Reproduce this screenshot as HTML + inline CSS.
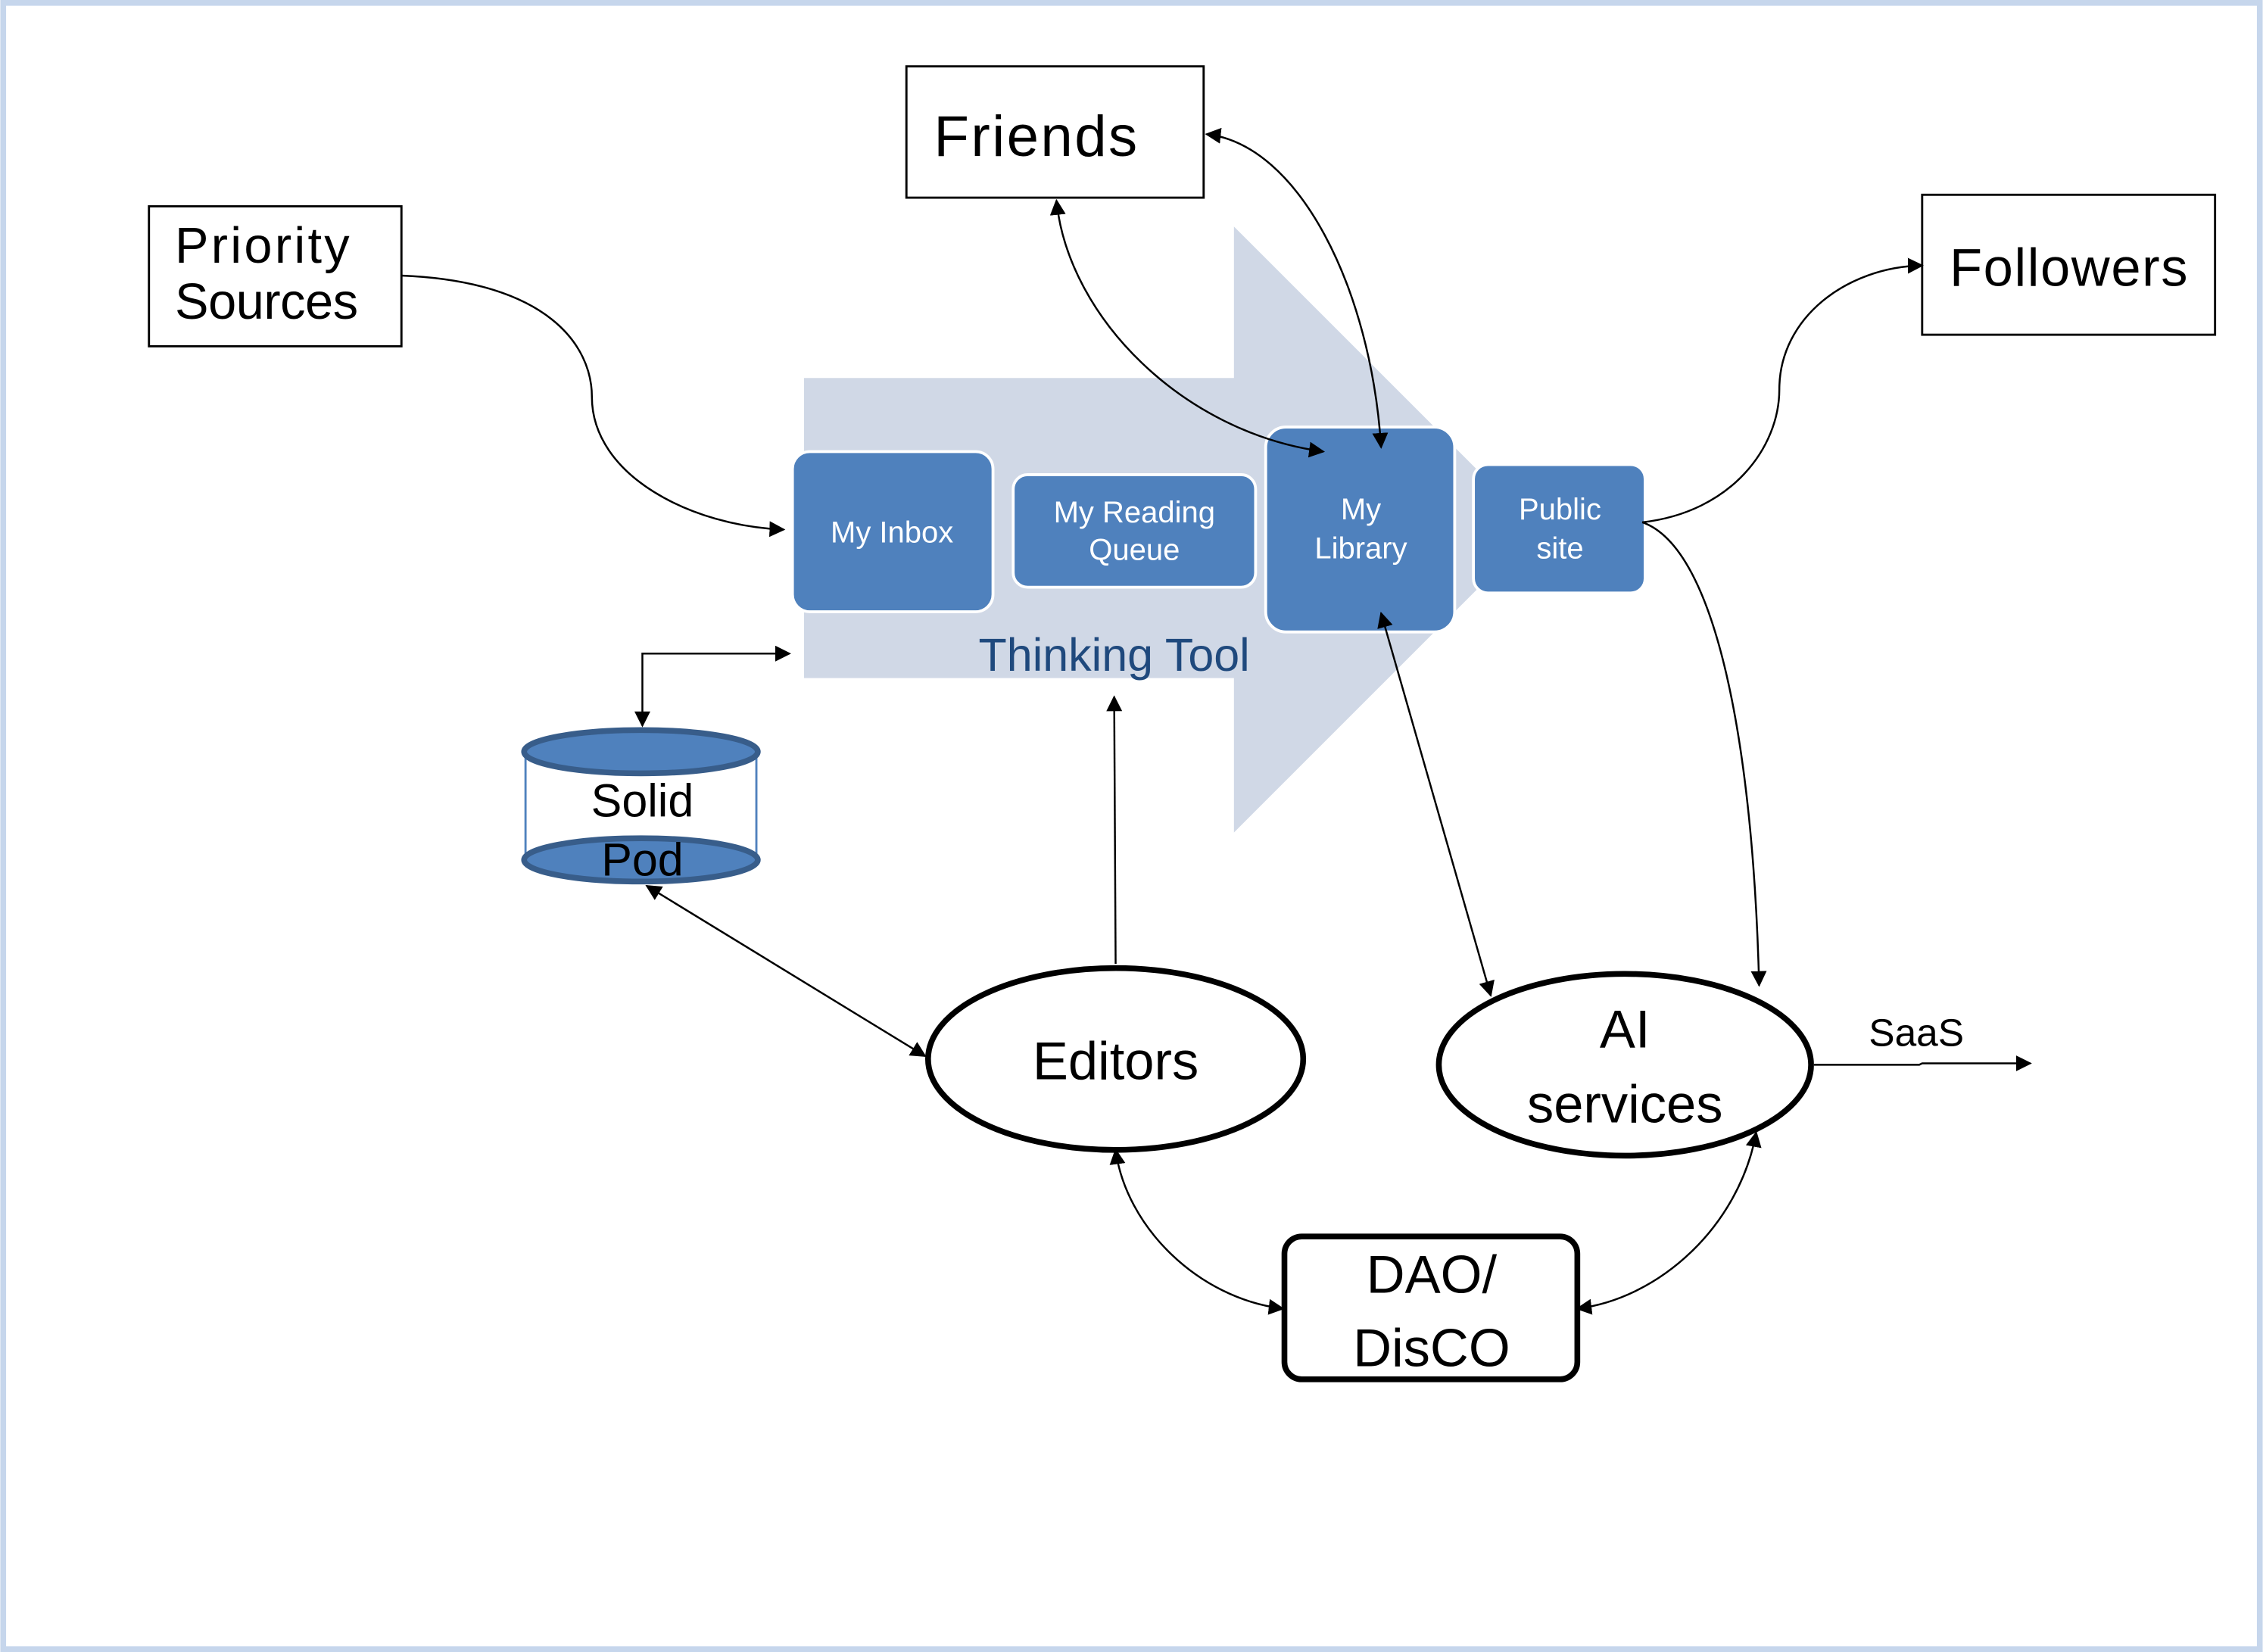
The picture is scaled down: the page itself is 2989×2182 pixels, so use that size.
<!DOCTYPE html>
<html><head><meta charset="utf-8"><style>
html,body{margin:0;padding:0;background:#fff;}
svg{display:block;}
text{font-family:"Liberation Sans",sans-serif;}
</style></head><body>
<svg width="2989" height="2182" viewBox="0 0 1568 1145" xmlns="http://www.w3.org/2000/svg">
<defs>
<marker id="a" viewBox="0 0 10 10" refX="9" refY="5" markerWidth="11" markerHeight="11" markerUnits="userSpaceOnUse" orient="auto-start-reverse">
<path d="M0,0 L10,5 L0,10 z" fill="#000"/></marker>
</defs>
<rect x="0" y="0" width="1568" height="1145" fill="#fff"/>
<rect x="2" y="2" width="1564" height="1141" fill="none" stroke="#c6d6ec" stroke-width="4"/>
<polygon points="557,262 855,262 855,157 1065,367 855,577 855,470 557,470" fill="#d0d8e6"/>
<g stroke="#fff" stroke-width="2" fill="#4f81bd">
<rect x="549" y="313" width="139" height="111" rx="12"/>
<rect x="702" y="329" width="168" height="78" rx="10"/>
<rect x="877" y="296" width="131" height="142" rx="14"/>
<rect x="1021" y="322" width="119" height="89" rx="10"/>
</g>
<g fill="#fff" font-size="21" text-anchor="middle">
<text x="618" y="376">My Inbox</text>
<text x="786" y="362">My Reading</text><text x="786" y="388">Queue</text>
<text x="943" y="360">My</text><text x="943" y="387">Library</text>
<text x="1081" y="360">Public</text><text x="1081" y="387">site</text>
</g>
<text x="772" y="465" font-size="32" fill="#1f497d" text-anchor="middle">Thinking Tool</text>
<g fill="#fff" stroke="#000" stroke-width="1.5">
<rect x="628" y="46" width="206" height="91"/>
<rect x="103" y="143" width="175" height="97"/>
<rect x="1332" y="135" width="203" height="97"/>
</g>
<text x="647" y="108" font-size="40" textLength="141">Friends</text>
<text x="121" y="182" font-size="35" textLength="121">Priority</text>
<text x="121" y="221" font-size="35" textLength="127">Sources</text>
<text x="1351" y="198" font-size="37" textLength="165">Followers</text>
<line x1="364" y1="521" x2="364" y2="596" stroke="#4f81bd" stroke-width="1.5"/>
<line x1="524" y1="521" x2="524" y2="596" stroke="#4f81bd" stroke-width="1.5"/>
<ellipse cx="444" cy="596" rx="81" ry="15" fill="#4f81bd" stroke="#385d8a" stroke-width="4"/>
<ellipse cx="444" cy="521" rx="81" ry="15" fill="#4f81bd" stroke="#385d8a" stroke-width="4"/>
<text x="445" y="566" font-size="32" text-anchor="middle">Solid</text>
<text x="445" y="607" font-size="32" text-anchor="middle">Pod</text>
<ellipse cx="773" cy="734" rx="130" ry="63" fill="#fff" stroke="#000" stroke-width="4"/>
<text x="773" y="748" font-size="37" text-anchor="middle">Editors</text>
<ellipse cx="1126" cy="738" rx="129" ry="63" fill="#fff" stroke="#000" stroke-width="4"/>
<text x="1126" y="726" font-size="37" text-anchor="middle">AI</text>
<text x="1126" y="778" font-size="37" text-anchor="middle">services</text>
<rect x="890" y="857" width="203" height="99" rx="12" fill="#fff" stroke="#000" stroke-width="4"/>
<text x="992" y="896" font-size="37" text-anchor="middle">DAO/</text>
<text x="992" y="947" font-size="37" text-anchor="middle">DisCO</text>
<text x="1328" y="725" font-size="27" text-anchor="middle">SaaS</text>
<g fill="none" stroke="#000" stroke-width="1.3">
<path d="M278,191 C380,195 410,240 410,275 C410,330 480,365 543,367" marker-end="url(#a)"/>
<path d="M836,93 C900,100 950,200 957,310" marker-start="url(#a)" marker-end="url(#a)"/>
<path d="M732,139 C740,220 820,300 917,313" marker-start="url(#a)" marker-end="url(#a)"/>
<path d="M1138,362 C1200,355 1233,310 1233,270 C1233,220 1280,185 1332,184" marker-end="url(#a)"/>
<path d="M1138,362 C1190,380 1215,520 1219,683" marker-end="url(#a)"/>
<path d="M957,425 L1033,690" marker-start="url(#a)" marker-end="url(#a)"/>
<path d="M445,503 L445,453 L547,453" marker-start="url(#a)" marker-end="url(#a)"/>
<path d="M448,614 L641,732" marker-start="url(#a)" marker-end="url(#a)"/>
<path d="M773,668 L772,483" marker-end="url(#a)"/>
<path d="M773,797 C780,850 830,900 889,907" marker-start="url(#a)" marker-end="url(#a)"/>
<path d="M1217,785 C1205,850 1150,900 1093,907" marker-start="url(#a)" marker-end="url(#a)"/>
<path d="M1257,738 L1330,738 L1332,737 L1407,737" marker-end="url(#a)"/>
</g>
</svg>
</body></html>
